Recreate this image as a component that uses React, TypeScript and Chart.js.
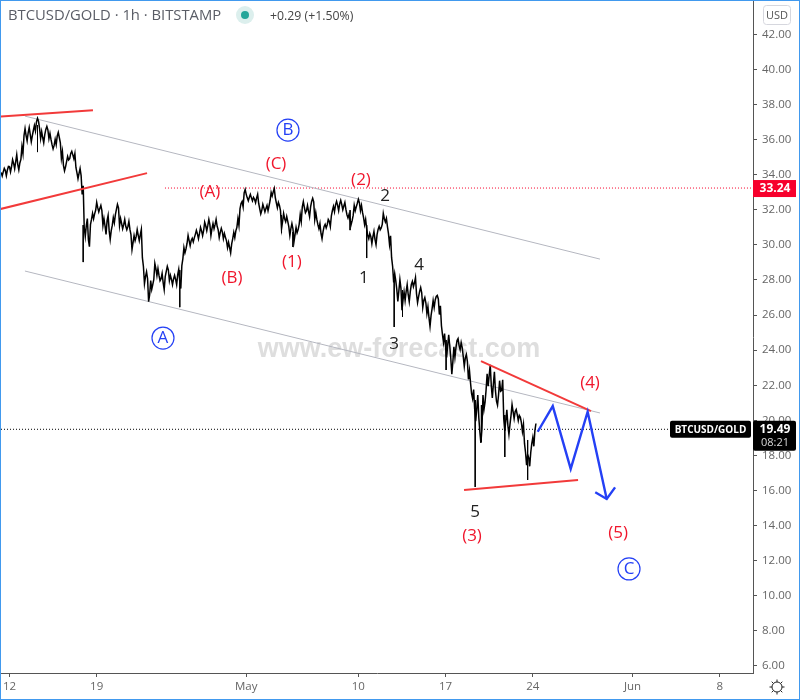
import React, { useEffect, useRef } from "react";
import { Chart, registerables } from "chart.js";

Chart.register(...registerables);

// Time axis: x is in days since 12 April
const xTickDays = [0, 7, 19, 28, 35, 42, 50, 57];
const xTickLabels = ["12", "19", "May", "10", "17", "24", "Jun", "8"];
const yTickValues = [6, 8, 10, 12, 14, 16, 18, 20, 22, 24, 26, 28, 30, 32, 34, 36, 38, 40, 42];

// Price sampled once per four hours, starting 16h before 12 April
const priceStartHour = -16;
const priceStepHours = 4;
const priceValues = [
  34.03, 34.26, 34.09, 34.37, 34.31, 34.66, 34.49, 34.94, 34.43, 34.77,
  35.4, 36.43, 36.08, 36.54, 36.08, 36.37, 36.65, 37.11, 36.83, 36.26,
  35.97, 36.43, 36.65, 36.2, 35.86, 35.57, 35.86, 36.31, 35.97, 35.12,
  34.37, 34.6, 34.94, 35.06, 35.23, 35.06, 34.26, 33.92, 34.15, 33.12,
  30.73, 31.3, 30.1, 31.3, 31.64, 31.87, 32.27, 31.98, 32.1, 31.3,
  30.84, 31.53, 30.56, 30.96, 31.41, 31.87, 32.21, 31.3, 31.07, 31.3,
  30.96, 31.19, 30.73, 29.93, 30.39, 30.67, 30.39, 30.73, 29.02, 27.99,
  28.27, 26.96, 27.71, 27.88, 28.79, 28.45, 28.11, 28.22, 27.65, 28.34,
  28.68, 28.11, 27.88, 28.16, 27.88, 28.45, 27.71, 29.02, 29.7, 29.93,
  30.39, 30.1, 30.27, 30.5, 30.73, 30.5, 30.9, 30.67, 31.19, 30.96,
  31.3, 30.73, 31.07, 31.3, 30.96, 30.56, 30.84, 30.5, 30.33, 29.99,
  29.7, 30.21, 30.56, 30.9, 31.3, 32.21, 32.32, 33.06, 32.78, 32.61,
  32.78, 32.61, 32.5, 32.78, 32.21, 31.87, 32.21, 31.98, 32.1, 32.38,
  32.89, 33.12, 32.55, 32.27, 32.1, 31.13, 31.64, 31.47, 31.19, 30.73,
  31.07, 30.39, 30.84, 31.02, 31.53, 32.32, 31.98, 32.1, 31.76, 32.32,
  32.55, 31.64, 31.3, 31.07, 30.5, 30.9, 31.07, 31.3, 31.19, 31.81,
  32.04, 32.38, 32.1, 32.44, 32.15, 32.32, 31.87, 31.64, 31.3, 31.53,
  32.1, 32.27, 32.5, 32.1, 31.7, 31.3, 30.73, 30.5, 30.27, 30.62,
  30.16, 30.73, 30.96, 31.07, 31.64, 31.41, 30.84, 30.27, 29.02, 28.11,
  27.71, 27.08, 27.77, 26.57, 27.08, 27.54, 26.96, 27.54, 27.77, 27.99,
  26.96, 27.2, 27.42, 26.63, 26.85, 26.28, 25.6, 26.17, 26.63, 26.96,
  27.02, 26.28, 25.14, 24.69, 23.89, 24.58, 23.89, 22.98, 23.89, 24.35,
  24.46, 24.23, 23.89, 23.32, 23.55, 22.58, 21.84, 21.5, 20.3, 21.04,
  19.74, 19.11, 21.04, 21.39, 22.3, 22.87, 21.62, 22.41, 21.39, 21.16,
  21.96, 22.01, 19.74, 20.3, 19.45, 20.02, 20.7, 20.3, 20.47, 20.13,
  20.02, 19.56, 18.42, 17.74, 17.63, 18.42, 18.77, 19.62,
];

// Half-range of each four-hour sample, estimated from the thickness of the trace
const priceSpreads = [
  0.1, 0.1, 0.15, 0.1, 0.15, 0.2, 0.15, 0.2, 0.15, 0.1,
  0.2, 0.2, 0.15, 0.15, 0.2, 0.15, 0.15, 0.1, 0.2, 0.2,
  0.15, 0.15, 0.1, 0.15, 0.15, 0.1, 0.15, 0.1, 0.15, 0.2,
  0.15, 0.15, 0.1, 0.15, 0.1, 0.15, 0.15, 0.15, 0.2, 0.25,
  0.25, 0.2, 0.2, 0.15, 0.15, 0.1, 0.15, 0.1, 0.15, 0.2,
  0.25, 0.15, 0.25, 0.15, 0.15, 0.15, 0.1, 0.2, 0.15, 0.15,
  0.1, 0.15, 0.15, 0.2, 0.15, 0.2, 0.15, 0.15, 0.25, 0.2,
  0.2, 0.2, 0.25, 0.15, 0.15, 0.2, 0.15, 0.15, 0.2, 0.15,
  0.1, 0.15, 0.15, 0.1, 0.15, 0.15, 0.2, 0.2, 0.15, 0.15,
  0.15, 0.15, 0.1, 0.1, 0.1, 0.15, 0.1, 0.15, 0.1, 0.15,
  0.15, 0.2, 0.15, 0.15, 0.1, 0.15, 0.1, 0.15, 0.1, 0.15,
  0.15, 0.15, 0.15, 0.1, 0.2, 0.15, 0.15, 0.1, 0.1, 0.1,
  0.1, 0.1, 0.1, 0.1, 0.15, 0.1, 0.1, 0.1, 0.15, 0.15,
  0.1, 0.1, 0.15, 0.15, 0.15, 0.2, 0.15, 0.15, 0.15, 0.2,
  0.15, 0.2, 0.15, 0.15, 0.2, 0.15, 0.15, 0.15, 0.15, 0.15,
  0.1, 0.2, 0.15, 0.15, 0.15, 0.15, 0.1, 0.15, 0.15, 0.15,
  0.15, 0.1, 0.15, 0.1, 0.15, 0.1, 0.15, 0.1, 0.15, 0.15,
  0.15, 0.1, 0.1, 0.15, 0.15, 0.15, 0.2, 0.15, 0.2, 0.15,
  0.15, 0.15, 0.1, 0.1, 0.15, 0.1, 0.2, 0.25, 0.25, 0.25,
  0.25, 0.3, 0.25, 0.3, 0.25, 0.2, 0.2, 0.2, 0.15, 0.15,
  0.25, 0.15, 0.15, 0.2, 0.15, 0.2, 0.25, 0.2, 0.2, 0.1,
  0.1, 0.25, 0.25, 0.25, 0.3, 0.3, 0.35, 0.35, 0.3, 0.2,
  0.2, 0.2, 0.25, 0.25, 0.2, 0.25, 0.3, 0.25, 0.35, 0.4,
  0.4, 0.4, 0.4, 0.35, 0.35, 0.3, 0.35, 0.35, 0.3, 0.3,
  0.3, 0.3, 0.35, 0.3, 0.25, 0.25, 0.2, 0.2, 0.15, 0.15,
  0.15, 0.2, 0.25, 0.3, 0.25, 0.25, 0.25, 0.2,
];

// Long hourly wicks
const wickHours = [54, 142, 328, 524, 546, 656, 688, 741, 757, 841, 897, 909, 954, 998];
const wickHighs = [36.83, 31.13, 28.56, 31.7, 30.73, 31.98, 31.13, 27.99, 27.42, 24.58, 21.16, 20.87, 20.3, 18.88];
const wickLows = [35.29, 29.02, 26.45, 30.67, 29.88, 30.84, 29.25, 25.32, 25.89, 22.87, 16.2, 18.77, 17.91, 16.6];

// Drawn trend lines
const channelUpperDays = [1.24, 47.39];
const channelUpperPrices = [37.34, 29.19];
const channelLowerDays = [1.24, 47.39];
const channelLowerPrices = [28.51, 20.42];
const redTopDays = [-0.68, 6.7];
const redTopPrices = [37.31, 37.68];
const redMidDays = [-0.76, 11.04];
const redMidPrices = [32.04, 34.09];
const triangleTopDays = [37.84, 46.67];
const triangleTopPrices = [23.38, 20.53];
const triangleBottomDays = [36.48, 45.63];
const triangleBottomPrices = [16.03, 16.6];
const forecastDays = [42.39, 43.6, 45.04, 46.4, 47.93];
const forecastPrices = [19.35, 20.81, 17.23, 20.49, 15.52];
const arrowDays = [47.01, 47.93, 48.6];
const arrowPrices = [15.9, 15.52, 16.18];

// Horizontal levels
const resistanceLevel = 33.24;
const resistanceStartDay = 12.48;
const lastPrice = 19.49;
const lastPriceEndDay = 53.0;

// Wave labels
const redLabels = ["(A)", "(B)", "(C)", "(1)", "(2)", "(3)", "(4)", "(5)"];
const redLabelDays = [16.09, 17.86, 21.39, 22.67, 28.21, 37.12, 46.59, 48.84];
const redLabelPrices = [33.01, 28.11, 34.6, 29.02, 33.69, 13.41, 22.13, 13.58];
const blackLabels = ["1", "2", "3", "4", "5"];
const blackLabelDays = [28.45, 30.14, 30.86, 32.87, 37.36];
const blackLabelPrices = [28.11, 32.78, 24.35, 28.85, 14.77];
const circleLabels = ["B", "A", "C"];
const circleLabelDays = [22.35, 12.32, 49.72];
const circleLabelPrices = [36.54, 24.69, 11.53];

const X_MIN = -0.68;
const X_MAX = 59.67;
const Y_MIN = 5.6;
const Y_MAX = 43.9;

const FONT = '"Open Sans", "Noto Sans", sans-serif';
const RED = "#f23a3a";
const BLUE = "#2440f5";

const pair = (xs: number[], ys: number[]) => xs.map((x, i) => ({ x, y: ys[i] }));

const pricePoints = priceValues.flatMap((v, i) => {
  const t = (priceStartHour + i * priceStepHours) / 24;
  const s = priceSpreads[i];
  const half = priceStepHours / 2 / 24;
  return i % 2 === 0
    ? [{ x: t, y: v + s }, { x: t + half, y: v - s }]
    : [{ x: t, y: v - s }, { x: t + half, y: v + s }];
});

const wickPoints = wickHours.flatMap((h, i) => [
  { x: h / 24, y: wickHighs[i] },
  { x: h / 24, y: wickLows[i] },
  { x: h / 24, y: null as unknown as number },
]);

const line = (data: { x: number; y: number }[], color: string, width: number, order: number, dash: number[] = []) => ({
  type: "line" as const,
  data,
  borderColor: color,
  borderWidth: width,
  borderDash: dash,
  pointRadius: 0,
  tension: 0,
  spanGaps: false,
  order,
  borderCapStyle: "butt" as const,
  borderJoinStyle: "miter" as const,
});

const overlayPlugin = {
  id: "overlay",
  beforeDatasetsDraw(chart: any) {
    const { ctx } = chart;
    ctx.save();
    ctx.font = 'bold 27px "Liberation Sans", Arial, sans-serif';
    ctx.fillStyle = "#dedede";
    ctx.textAlign = "center";
    ctx.textBaseline = "middle";
    ctx.fillText("www.ew-forecast.com", 399, 350);
    ctx.restore();
  },
  afterDraw(chart: any) {
    const { ctx, scales } = chart;
    const xs = scales.x;
    const ys = scales.y;
    ctx.save();

    // wave labels
    ctx.textAlign = "center";
    ctx.textBaseline = "middle";
    ctx.font = `17px ${FONT}`;
    ctx.fillStyle = "#f0162c";
    redLabels.forEach((t, i) => {
      ctx.fillText(t, xs.getPixelForValue(redLabelDays[i]), ys.getPixelForValue(redLabelPrices[i]));
    });
    ctx.fillStyle = "#222";
    blackLabels.forEach((t, i) => {
      ctx.fillText(t, xs.getPixelForValue(blackLabelDays[i]), ys.getPixelForValue(blackLabelPrices[i]));
    });
    ctx.fillStyle = BLUE;
    ctx.strokeStyle = BLUE;
    ctx.lineWidth = 1.2;
    circleLabels.forEach((t, i) => {
      const cx = xs.getPixelForValue(circleLabelDays[i]);
      const cy = ys.getPixelForValue(circleLabelPrices[i]);
      ctx.beginPath();
      ctx.arc(cx, cy, 11, 0, Math.PI * 2);
      ctx.stroke();
      ctx.fillText(t, cx, cy + 0.5);
    });

    // header
    ctx.textAlign = "left";
    ctx.font = `14.8px ${FONT}`;
    ctx.fillStyle = "#5a5d66";
    ctx.fillText("BTCUSD/GOLD · 1h · BITSTAMP", 8, 16);
    ctx.beginPath();
    ctx.fillStyle = "#dcefed";
    ctx.arc(245, 15, 9, 0, Math.PI * 2);
    ctx.fill();
    ctx.beginPath();
    ctx.fillStyle = "#26a69a";
    ctx.arc(245, 15, 4, 0, Math.PI * 2);
    ctx.fill();
    ctx.font = `12.3px ${FONT}`;
    ctx.fillStyle = "#444";
    ctx.fillText("+0.29 (+1.50%)", 270, 16);

    // USD button
    ctx.strokeStyle = "#d6d7de";
    ctx.lineWidth = 1;
    ctx.beginPath();
    ctx.roundRect(763.5, 5.5, 27, 19, 3);
    ctx.stroke();
    ctx.fillStyle = "#555";
    ctx.font = `11px ${FONT}`;
    ctx.textAlign = "center";
    ctx.fillText("USD", 777, 15.5);

    // resistance tag
    const rY = ys.getPixelForValue(resistanceLevel);
    ctx.fillStyle = "#f7002c";
    ctx.fillRect(753, rY - 8, 43, 17);
    ctx.fillStyle = "#fff";
    ctx.font = `bold 12px ${FONT}`;
    ctx.fillText(resistanceLevel.toFixed(2), 775, rY + 0.5);

    // last price tags
    const lY = ys.getPixelForValue(lastPrice);
    ctx.fillStyle = "#000";
    ctx.beginPath();
    ctx.roundRect(670, lY - 8.5, 81, 17, 2);
    ctx.fill();
    ctx.beginPath();
    ctx.roundRect(753, lY - 8.5, 43, 30, 2);
    ctx.fill();
    ctx.fillStyle = "#fff";
    ctx.font = `bold 10px ${FONT}`;
    ctx.fillText("BTCUSD/GOLD", 710.5, lY + 0.5);
    ctx.font = `bold 12px ${FONT}`;
    ctx.fillText(lastPrice.toFixed(2), 775, lY + 0.5);
    ctx.font = `11px ${FONT}`;
    ctx.fillStyle = "#d8d8d8";
    ctx.fillText("08:21", 775, lY + 14);

    // settings icon
    ctx.strokeStyle = "#222";
    ctx.lineWidth = 1;
    ctx.beginPath();
    ctx.arc(777, 687, 5, 0, Math.PI * 2);
    ctx.stroke();
    for (let k = 0; k < 8; k++) {
      const a = (k * Math.PI) / 4;
      ctx.beginPath();
      ctx.moveTo(777 + Math.cos(a) * 5, 687 + Math.sin(a) * 5);
      ctx.lineTo(777 + Math.cos(a) * 7.5, 687 + Math.sin(a) * 7.5);
      ctx.stroke();
    }

    // frame
    ctx.strokeStyle = "#4199ee";
    ctx.lineWidth = 1;
    ctx.strokeRect(0.5, 0.5, 799, 699);
    ctx.restore();
  },
};

export default function App() {
  const ref = useRef<HTMLCanvasElement>(null);

  useEffect(() => {
    document.body.style.margin = "0";
    const chart = new Chart(ref.current!, {
      type: "line",
      data: {
        datasets: [
          line(pair(forecastDays, forecastPrices), BLUE, 2.4, 0),
          line(pair(arrowDays, arrowPrices), BLUE, 2.4, 0),
          line(pair(redTopDays, redTopPrices), RED, 2, 1),
          line(pair(redMidDays, redMidPrices), RED, 2, 1),
          line(pair(triangleTopDays, triangleTopPrices), RED, 2, 1),
          line(pair(triangleBottomDays, triangleBottomPrices), RED, 2, 1),
          line(pricePoints, "#000", 1.5, 2),
          line(wickPoints, "#000", 1, 2),
          line(pair(channelUpperDays, channelUpperPrices), "#b5b7c0", 1, 3),
          line(pair(channelLowerDays, channelLowerPrices), "#b5b7c0", 1, 3),
          line(pair([resistanceStartDay, X_MAX], [resistanceLevel, resistanceLevel]), "#f7002c", 1, 3, [1, 2]),
          line(pair([X_MIN, lastPriceEndDay], [lastPrice, lastPrice]), "#000", 1, 3, [1, 2]),
        ] as any,
      },
      options: {
        responsive: false,
        animation: false,
        devicePixelRatio: 1,
        events: [],
        layout: { padding: { left: 1, top: 1, right: 0, bottom: 0 } },
        plugins: { legend: { display: false }, tooltip: { enabled: false }, title: { display: false } },
        scales: {
          x: {
            type: "linear",
            min: X_MIN,
            max: X_MAX,
            afterBuildTicks: (s: any) => {
              s.ticks = xTickDays.map((value) => ({ value }));
            },
            afterFit: (s: any) => {
              s.height = 27;
              s.paddingLeft = 0;
              s.paddingRight = 0;
            },
            grid: { drawOnChartArea: false, drawTicks: true, tickLength: 4, color: "#555", tickColor: "#555" },
            border: { color: "#555", width: 1 },
            ticks: {
              autoSkip: false,
              maxRotation: 0,
              padding: 3,
              color: "#666",
              font: { family: FONT, size: 11.5 },
              callback: (v: any) => xTickLabels[xTickDays.indexOf(Number(v))] ?? "",
            },
          },
          y: {
            type: "linear",
            position: "right",
            min: Y_MIN,
            max: Y_MAX,
            afterBuildTicks: (s: any) => {
              s.ticks = yTickValues.map((value) => ({ value }));
            },
            afterFit: (s: any) => {
              s.width = 47;
              s.paddingTop = 0;
              s.paddingBottom = 0;
            },
            grid: { drawOnChartArea: false, drawTicks: true, tickLength: 4, color: "#555", tickColor: "#555" },
            border: { color: "#555", width: 1 },
            ticks: {
              padding: 5,
              color: "#666",
              font: { family: FONT, size: 11.5 },
              callback: (v: any) => Number(v).toFixed(2),
            },
          },
        },
      } as any,
      plugins: [overlayPlugin],
    });
    return () => chart.destroy();
  }, []);

  return <canvas ref={ref} width={800} height={700} style={{ display: "block" }} />;
}
